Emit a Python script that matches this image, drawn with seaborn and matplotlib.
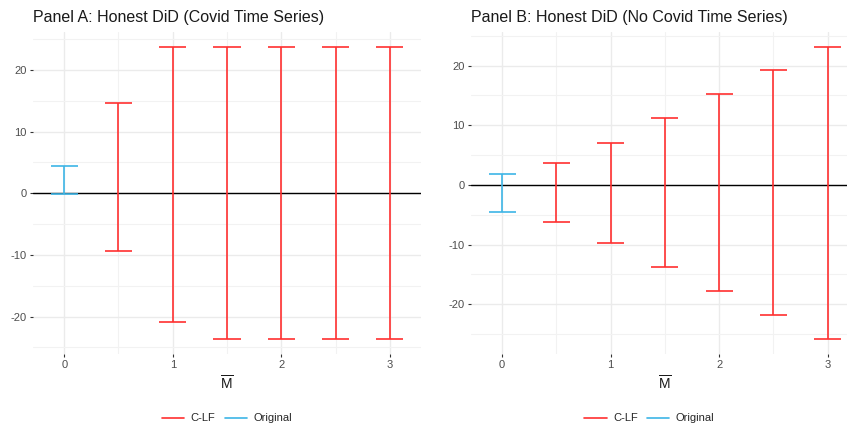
import matplotlib
matplotlib.use("Agg")
import matplotlib.pyplot as plt
from matplotlib.ticker import MultipleLocator
import numpy as np
import pandas as pd
import seaborn as sns

# valeurs
m_bar = [0.5, 1.0, 1.5, 2.0, 2.5, 3.0]
a_lower = [-9.3, -20.8, -23.7, -23.7, -23.7, -23.7]
a_upper = [14.6, 23.8, 23.8, 23.8, 23.8, 23.8]
a_orig = [-0.1, 4.5]
b_lower = [-6.3, -9.75, -13.8, -17.8, -21.85, -25.9]
b_upper = [3.7, 7.1, 11.2, 15.2, 19.2, 23.2]
b_orig = [-4.6, 1.9]

titles = ["Panel A: Honest DiD (Covid Time Series)",
          "Panel B: Honest DiD (No Covid Time Series)"]
colors = {"C-LF": "#FF3030", "Original": "#3DB5E6"}


def make_df(lower, upper, orig):
    rows = [{"M": 0.0, "lb": orig[0], "ub": orig[1], "type": "Original"}]
    for m, lo, hi in zip(m_bar, lower, upper):
        rows.append({"M": m, "lb": lo, "ub": hi, "type": "C-LF"})
    return pd.DataFrame(rows)


sns.set_theme(style="whitegrid")
plt.rcParams["font.family"] = ["Liberation Sans", "DejaVu Sans"]
plt.rcParams["mathtext.fontset"] = "custom"
plt.rcParams["mathtext.rm"] = "Liberation Sans"
plt.rcParams["axes.unicode_minus"] = False

fig = plt.figure(figsize=(8.47, 4.25), dpi=100)
ax_a = fig.add_axes([0.039, 0.167, 0.458, 0.758])
ax_b = fig.add_axes([0.556, 0.167, 0.458, 0.758])

panels = [(ax_a, make_df(a_lower, a_upper, a_orig)),
          (ax_b, make_df(b_lower, b_upper, b_orig))]

w = 0.25
for i, (ax, df) in enumerate(panels):
    ax.axhline(0, color="black", lw=1.0, zorder=2)
    for t in ["C-LF", "Original"]:
        d = df[df["type"] == t]
        c = colors[t]
        ax.vlines(d["M"], d["lb"], d["ub"], color=c, lw=1.2, zorder=3)
        ax.hlines(d["lb"], d["M"] - w / 2, d["M"] + w / 2, color=c, lw=1.2, zorder=3)
        ax.hlines(d["ub"], d["M"] - w / 2, d["M"] + w / 2, color=c, lw=1.2, zorder=3)
        ax.plot([], [], color=c, lw=1.2, label=t)

    # expansion 5% comme ggplot
    xmin, xmax = df["M"].min() - w / 2, df["M"].max() + w / 2
    ymin, ymax = df["lb"].min(), df["ub"].max()
    ax.set_xlim(xmin - 0.05 * (xmax - xmin), xmax + 0.05 * (xmax - xmin))
    ax.set_ylim(ymin - 0.05 * (ymax - ymin), ymax + 0.05 * (ymax - ymin))

    ax.xaxis.set_major_locator(MultipleLocator(1))
    ax.xaxis.set_minor_locator(MultipleLocator(0.5))
    ax.yaxis.set_major_locator(MultipleLocator(10))
    ax.yaxis.set_minor_locator(MultipleLocator(5))
    ax.grid(which="major", color="#EBEBEB", lw=1.0)
    ax.grid(which="minor", color="#F2F2F2", lw=0.8)
    for s in ax.spines.values():
        s.set_visible(False)
    ax.tick_params(which="major", length=2.5, width=0.8, color="#333333",
                   labelsize=8, labelcolor="#4D4D4D", pad=2, bottom=True, left=True)
    ax.tick_params(which="minor", length=0)
    ax.set_xticks([0, 1, 2, 3])
    ax.set_xticklabels(["0", "1", "2", "3"])
    ax.set_ylabel("")
    ax.set_xlabel(r"$\overline{\mathrm{M}}$", fontsize=10, color="#1A1A1A", labelpad=3)
    ax.set_title(titles[i], loc="left", fontsize=11.5, color="#1A1A1A", pad=7)
    ax.legend(loc="center", bbox_to_anchor=(0.5 if i == 0 else 0.46, -0.2), ncol=2,
              frameon=False, fontsize=8, handlelength=2.0, columnspacing=0.8,
              handletextpad=0.6)

fig.savefig("out.png", dpi=100)
